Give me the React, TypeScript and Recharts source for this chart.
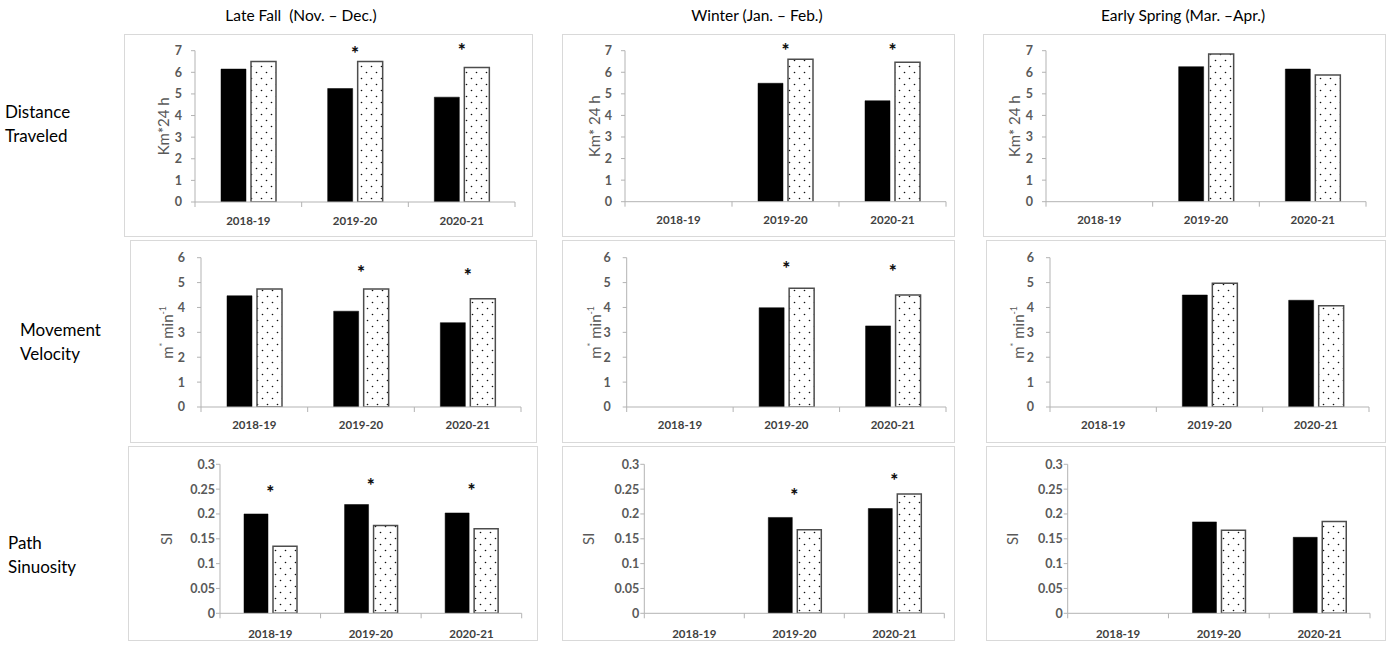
import React from 'react';
import { BarChart, Bar, XAxis, YAxis, ReferenceDot } from 'recharts';

// ---------- DATA ----------
const years = ['2018-19', '2019-20', '2020-21'];
const seasonTitles = ['Late Fall  (Nov. \u2013 Dec.)', 'Winter (Jan. \u2013 Feb.)', 'Early Spring (Mar. \u2013Apr.)'];
const rowLabels = [['Distance', 'Traveled'], ['Movement', 'Velocity'], ['Path', 'Sinuosity']];

const distTicks = [0, 1, 2, 3, 4, 5, 6, 7];
const velTicks = [0, 1, 2, 3, 4, 5, 6];
const siTicks = [0, 0.05, 0.1, 0.15, 0.2, 0.25, 0.3];

// Distance traveled (Km*24 h)
const distFallSolid = [6.15, 5.25, 4.85];
const distFallDotted = [6.5, 6.5, 6.22];
const distFallStar = [null, 7.04, 7.16];
const distWinterSolid = [null, 5.49, 4.68];
const distWinterDotted = [null, 6.6, 6.46];
const distWinterStar = [null, 7.16, 7.16];
const distSpringSolid = [null, 6.26, 6.15];
const distSpringDotted = [null, 6.85, 5.87];
const distSpringStar = [null, null, null];

// Movement velocity (m* min-1)
const velFallSolid = [4.47, 3.85, 3.39];
const velFallDotted = [4.74, 4.74, 4.35];
const velFallStar = [null, 5.53, 5.43];
const velWinterSolid = [null, 3.99, 3.26];
const velWinterDotted = [null, 4.77, 4.5];
const velWinterStar = [null, 5.71, 5.6];
const velSpringSolid = [null, 4.5, 4.29];
const velSpringDotted = [null, 4.97, 4.07];
const velSpringStar = [null, null, null];

// Path sinuosity (SI)
const siFallSolid = [0.2, 0.219, 0.202];
const siFallDotted = [0.135, 0.177, 0.17];
const siFallStar = [0.25, 0.265, 0.254];
const siWinterSolid = [null, 0.193, 0.211];
const siWinterDotted = [null, 0.168, 0.24];
const siWinterStar = [null, 0.244, 0.274];
const siSpringSolid = [null, 0.184, 0.153];
const siSpringDotted = [null, 0.167, 0.185];
const siSpringStar = [null, null, null];

const buildRows = (solid: (number | null)[], dotted: (number | null)[], star: (number | null)[]) =>
  years.map((year, i) => ({ year, solid: solid[i], dotted: dotted[i], star: star[i] }));

// ---------- STYLE ----------
const FONT = 'Lato, "Open Sans", sans-serif';
const AXIS = '#b3b3b3';
const TICK_TXT = '#595959';
const BOX = '#d9d9d9';

type Rect = { l: number; t: number; r: number; b: number };

const XTick = (props: any) => {
  const { x, y, payload, index, band, labelDy } = props;
  const lx = x - band / 2;
  return (
    <g>
      <line x1={lx} y1={y} x2={lx} y2={y + 5} stroke={AXIS} strokeWidth={1} />
      {index === 2 && <line x1={x + band / 2} y1={y} x2={x + band / 2} y2={y + 5} stroke={AXIS} strokeWidth={1} />}
      <text x={x} y={y + labelDy} textAnchor="middle" dominantBaseline="central" fill="#404040" fontSize={11.5} fontWeight={700} fontFamily={FONT}>
        {payload.value}
      </text>
    </g>
  );
};

const StarShape = (props: any) => (
  <text x={props.cx} y={props.cy + 10} textAnchor="middle" fontSize={19} fontWeight={900} fill="#111" fontFamily={FONT}>*</text>
);

const Panel = (p: {
  id: string;
  box: Rect;
  plot: Rect;
  data: any[];
  ticks: number[];
  yTitle: React.ReactNode;
  titleOffset: number;
  tickMargin: number;
  labelDy: number;
  barSize: number;
}) => {
  const { box, plot } = p;
  const w = box.r - box.l;
  const h = box.b - box.t;
  const band = (plot.r - plot.l) / 3;
  const max = p.ticks[p.ticks.length - 1];
  const TitleContent = (lp: any) => {
    const vb = lp.viewBox || {};
    const cx = vb.x + vb.width - p.titleOffset;
    const cy = vb.y + vb.height / 2;
    return (
      <text x={cx} y={cy} transform={`rotate(-90 ${cx} ${cy})`} textAnchor="middle" dominantBaseline="central" fill={TICK_TXT} fontSize={15} fontFamily={FONT}>
        {p.yTitle}
      </text>
    );
  };
  return (
    <>
      <div style={{ position: 'absolute', left: box.l, top: box.t, width: w, height: h, border: `1.5px solid ${BOX}`, boxSizing: 'border-box' }} />
      <div style={{ position: 'absolute', left: box.l, top: box.t }}>
        <BarChart
          width={w}
          height={h}
          data={p.data}
          margin={{ top: plot.t - box.t, right: box.r - plot.r, bottom: 0, left: 0 }}
          barSize={p.barSize}
          barGap={5}
        >
          <defs>
            <pattern id={`dots-${p.id}`} width={10} height={12} patternUnits="userSpaceOnUse">
              <rect width={10} height={12} fill="#fff" />
              <circle cx={2.5} cy={2.5} r={0.8} fill="#111" />
              <circle cx={7.5} cy={8.5} r={0.8} fill="#111" />
            </pattern>
          </defs>
          <XAxis
            dataKey="year"
            height={box.b - plot.b}
            axisLine={{ stroke: AXIS }}
            tickLine={false}
            tickSize={0}
            tickMargin={0}
            interval={0}
            tick={(tp: any) => <XTick {...tp} band={band} labelDy={p.labelDy} />}
          />
          <YAxis
            width={plot.l - box.l}
            domain={[0, max]}
            ticks={p.ticks}
            allowDataOverflow
            axisLine={{ stroke: AXIS }}
            tickLine={{ stroke: AXIS }}
            tickSize={4}
            tickMargin={p.tickMargin}
            interval={0}
            tick={{ fill: TICK_TXT, fontSize: 12.5, fontWeight: 700, fontFamily: FONT }}
            label={{ content: TitleContent }}
          />
          <Bar dataKey="solid" fill="#000" stroke="#000" strokeWidth={0.5} isAnimationActive={false} />
          <Bar dataKey="dotted" fill={`url(#dots-${p.id})`} stroke="#4d4d4d" strokeWidth={1.5} isAnimationActive={false} />
          {p.data
            .filter((d) => d.star != null)
            .map((d) => (
              <ReferenceDot key={d.year} x={d.year} y={d.star} r={0} ifOverflow="visible" shape={StarShape} />
            ))}
        </BarChart>
      </div>
    </>
  );
};

const kmTitle = 'Km*24 h';
const kmTitle2 = 'Km* 24 h';
const velTitle = (
  <>
    m<tspan fontSize={9} dy={-5}>*</tspan>
    <tspan dy={5}> min</tspan>
    <tspan fontSize={9} dy={-5}>-1</tspan>
  </>
);

export default function App() {
  const panels = [
    // row 1
    { id: 'd1', box: { l: 124, t: 34, r: 533, b: 237 }, plot: { l: 195, t: 50.7, r: 515, b: 202 }, data: buildRows(distFallSolid, distFallDotted, distFallStar), ticks: distTicks, yTitle: kmTitle, titleOffset: 32, tickMargin: 9, labelDy: 18, barSize: 25 },
    { id: 'd2', box: { l: 562, t: 34, r: 955, b: 237 }, plot: { l: 625, t: 50.7, r: 946, b: 201.7 }, data: buildRows(distWinterSolid, distWinterDotted, distWinterStar), ticks: distTicks, yTitle: kmTitle2, titleOffset: 31, tickMargin: 9, labelDy: 18, barSize: 25 },
    { id: 'd3', box: { l: 983, t: 34, r: 1386, b: 237 }, plot: { l: 1046, t: 50.7, r: 1366, b: 201.7 }, data: buildRows(distSpringSolid, distSpringDotted, distSpringStar), ticks: distTicks, yTitle: kmTitle2, titleOffset: 32, tickMargin: 9, labelDy: 18, barSize: 25 },
    // row 2
    { id: 'v1', box: { l: 130, t: 240, r: 537, b: 443 }, plot: { l: 201, t: 257.7, r: 521, b: 407 }, data: buildRows(velFallSolid, velFallDotted, velFallStar), ticks: velTicks, yTitle: velTitle, titleOffset: 34, tickMargin: 12, labelDy: 17, barSize: 25 },
    { id: 'v2', box: { l: 562, t: 240, r: 955, b: 443 }, plot: { l: 626.7, t: 257.7, r: 946, b: 407 }, data: buildRows(velWinterSolid, velWinterDotted, velWinterStar), ticks: velTicks, yTitle: velTitle, titleOffset: 32, tickMargin: 12, labelDy: 17, barSize: 25 },
    { id: 'v3', box: { l: 986, t: 240, r: 1386, b: 443 }, plot: { l: 1050, t: 257.7, r: 1369, b: 407 }, data: buildRows(velSpringSolid, velSpringDotted, velSpringStar), ticks: velTicks, yTitle: velTitle, titleOffset: 32, tickMargin: 12, labelDy: 17, barSize: 25 },
    // row 3
    { id: 's1', box: { l: 128, t: 446, r: 538, b: 641 }, plot: { l: 220, t: 464.3, r: 521.7, b: 613.3 }, data: buildRows(siFallSolid, siFallDotted, siFallStar), ticks: siTicks, yTitle: 'SI', titleOffset: 54, tickMargin: 1, labelDy: 20, barSize: 24 },
    { id: 's2', box: { l: 562, t: 446, r: 955, b: 641 }, plot: { l: 644.3, t: 464.3, r: 944.3, b: 613.3 }, data: buildRows(siWinterSolid, siWinterDotted, siWinterStar), ticks: siTicks, yTitle: 'SI', titleOffset: 56, tickMargin: 1, labelDy: 20, barSize: 24 },
    { id: 's3', box: { l: 986, t: 446, r: 1386, b: 641 }, plot: { l: 1067.7, t: 464.3, r: 1370, b: 613.3 }, data: buildRows(siSpringSolid, siSpringDotted, siSpringStar), ticks: siTicks, yTitle: 'SI', titleOffset: 56, tickMargin: 1, labelDy: 20, barSize: 24 },
  ];
  const titleX = [301, 757, 1183];
  const rowLabelPos = [
    { x: 5, y: 112 },
    { x: 20, y: 330 },
    { x: 8, y: 543 },
  ];
  return (
    <div style={{ position: 'absolute', left: 0, top: 0, width: 1392, height: 648, background: '#fff', fontFamily: FONT, overflow: 'hidden' }}>
      {seasonTitles.map((t, i) => (
        <div key={t} style={{ position: 'absolute', left: titleX[i] - 200, width: 400, top: 5, textAlign: 'center', fontSize: 15.5, color: '#000', whiteSpace: 'pre', lineHeight: '20px' }}>
          {t}
        </div>
      ))}
      {rowLabels.map((lines, i) => (
        <div key={lines[0]} style={{ position: 'absolute', left: rowLabelPos[i].x, top: rowLabelPos[i].y - 12, fontSize: 17, lineHeight: '24px', color: '#000' }}>
          {lines[0]}
          <br />
          {lines[1]}
        </div>
      ))}
      {panels.map((p) => (
        <Panel key={p.id} {...p} />
      ))}
    </div>
  );
}
